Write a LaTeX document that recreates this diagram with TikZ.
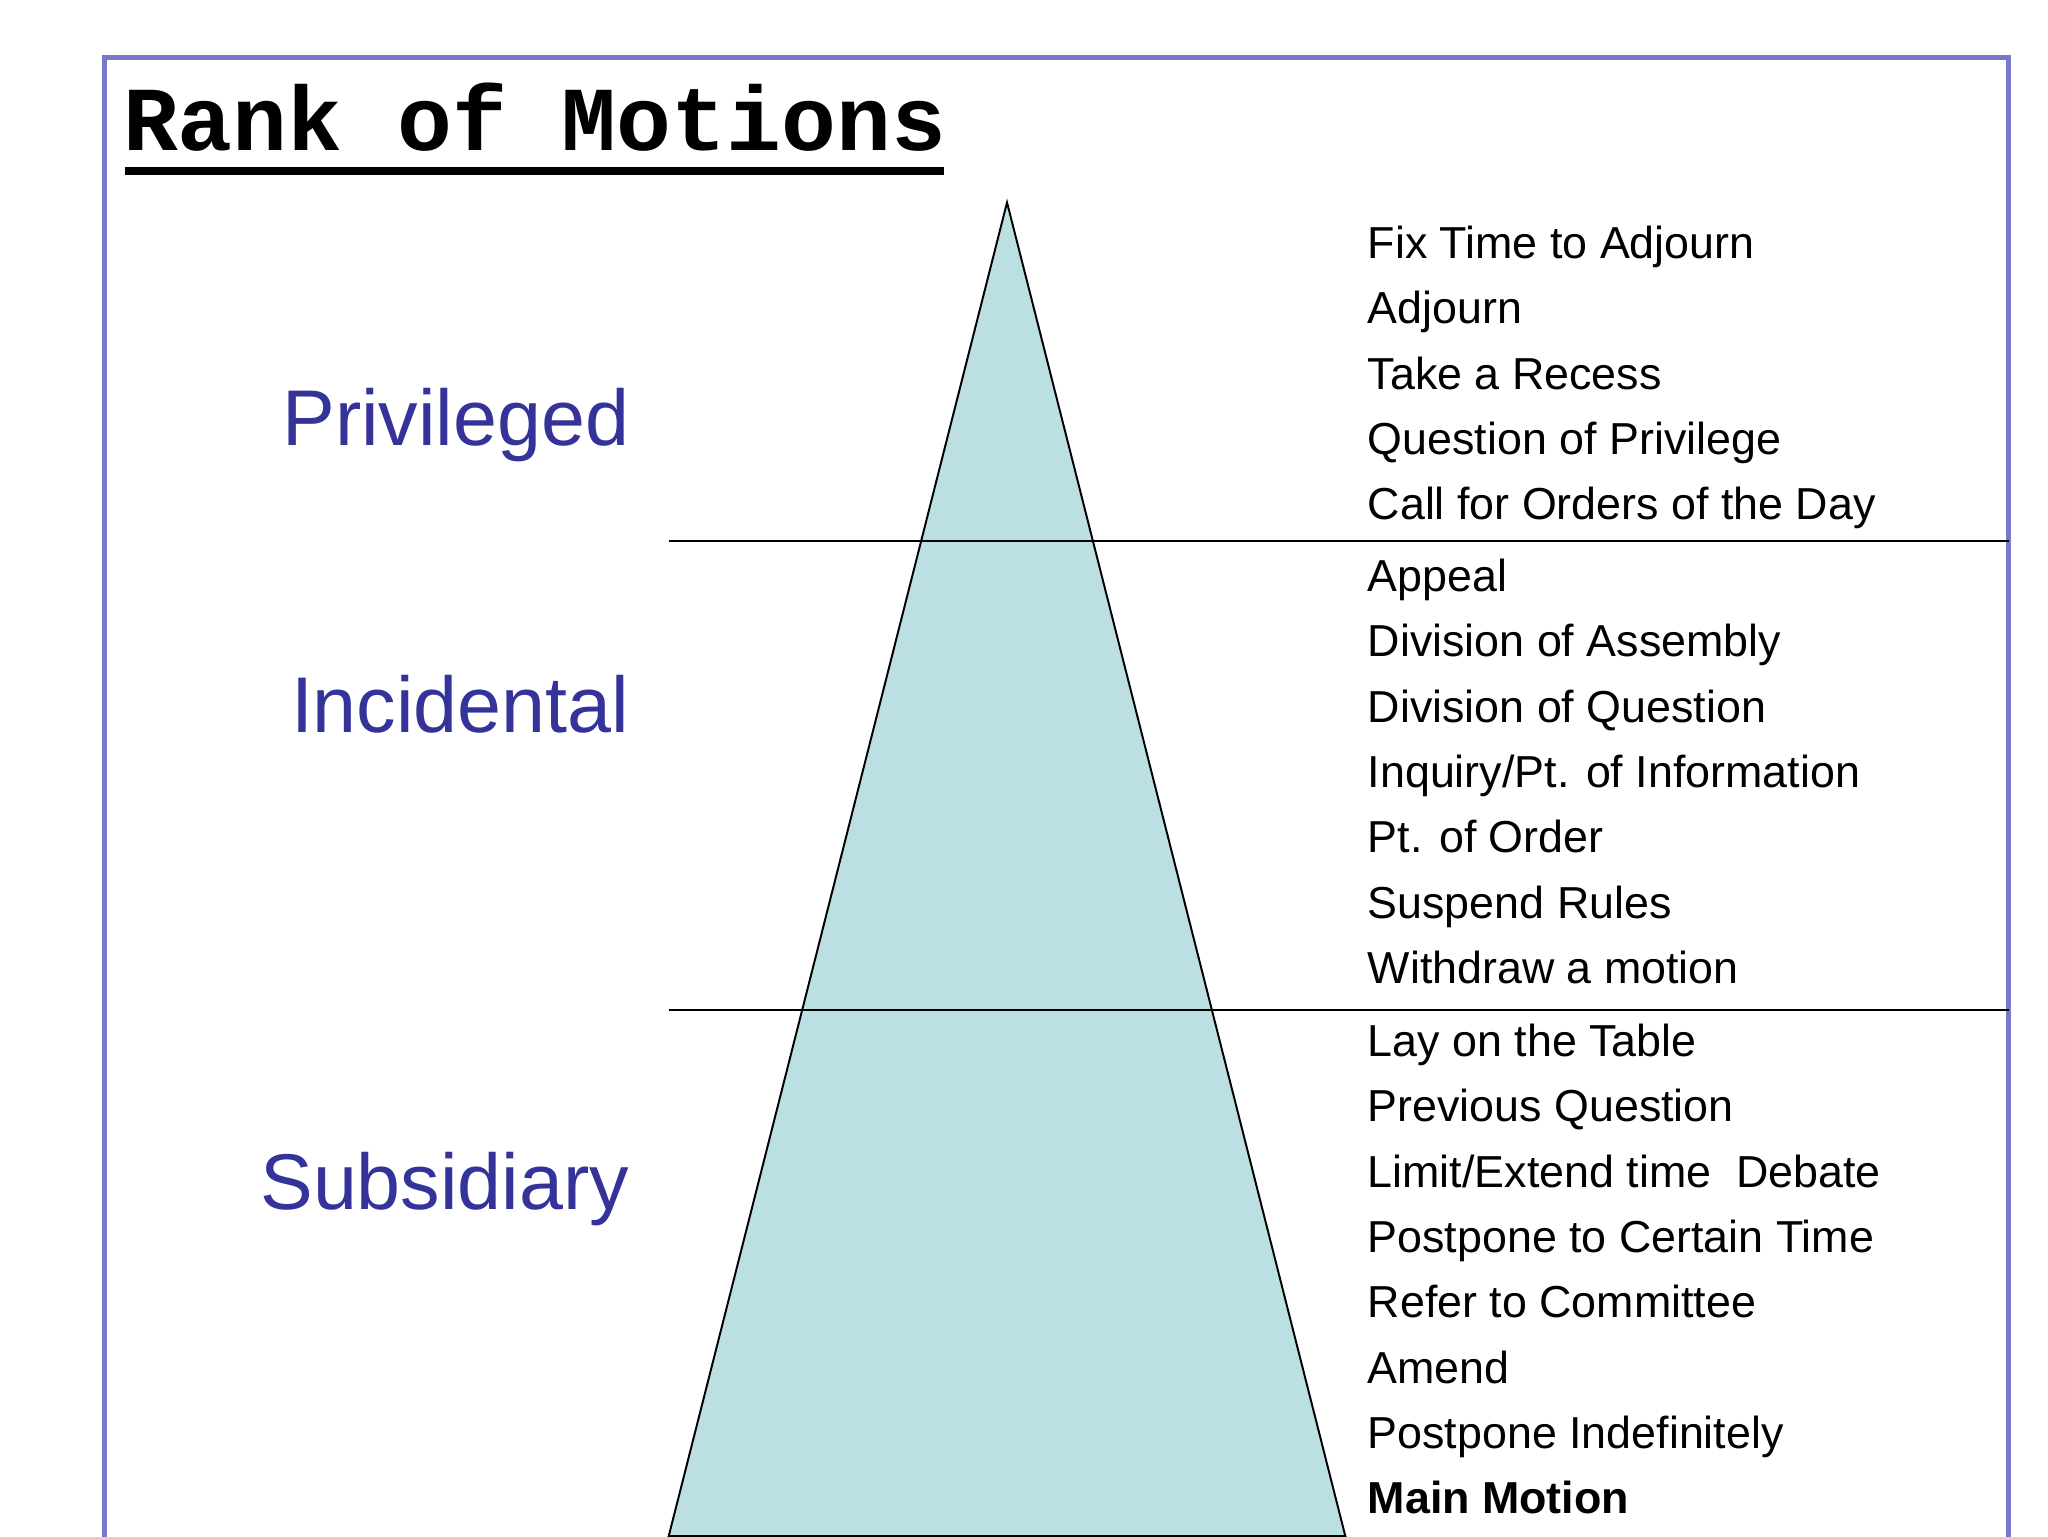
\documentclass[tikz,border=0pt]{standalone}
\usepackage{fontspec}
\setmainfont{Liberation Sans}
\newfontfamily\titlefont{Liberation Mono}
\definecolor{frame}{HTML}{7777CC}
\definecolor{tri}{HTML}{BBDFE3}
\definecolor{cat}{HTML}{333399}
\begin{document}
\begin{tikzpicture}[x=1pt,y=-1pt,
 item/.style={anchor=base west,inner sep=0,font=\fontsize{34.3}{36}\selectfont},
 catlab/.style={anchor=base east,inner sep=0,text=cat,font=\fontsize{60.5}{64}\selectfont}]
\useasboundingbox (0,0) rectangle (1568,1176);
\fill[white] (0,0) rectangle (1568,1176);
\draw[frame,line width=4] (80,1190) -- (80,44) -- (1538,44) -- (1538,1190);
\draw[fill=tri,line width=1.5] (771,155) -- (1030,1176) -- (512,1176) -- cycle;
\draw[line width=1.5] (512,414) -- (1538,414);
\draw[line width=1.5] (512,773) -- (1538,773);
\node[anchor=base west,inner sep=0,font=\titlefont\bfseries\fontsize{70}{72}\selectfont] (title) at (94,115) {Rank of Motions};
\draw[line width=6] (96,131) -- (723,131);
\node[catlab] (p) at (482,341) {Privileged};
\node[catlab] (i) at (482,561) {Incidental};
\node[catlab] (s) at (482,926) {Subsidiary};
\foreach \t [count=\k from 0] in {Fix Time to Adjourn,Adjourn,Take a Recess,Question of Privilege,Call for Orders of the Day}
 \node[item] (a\k) at (1047,198+50*\k) {\t};
\foreach \t [count=\k from 0] in {Appeal,Division of Assembly,Division of Question,Inquiry/Pt. of Information,Pt. of Order,Suspend Rules,Withdraw a motion}
 \node[item] (b\k) at (1047,453+50*\k) {\t};
\foreach \t [count=\k from 0] in {Lay on the Table,Previous Question,Limit/Extend time\ \ Debate,Postpone to Certain Time,Refer to Committee,Amend,Postpone Indefinitely}
 \node[item] (c\k) at (1047,809+50*\k) {\t};
\node[item,font=\bfseries\fontsize{34.3}{36}\selectfont] (main) at (1047,1159) {Main Motion};
\end{tikzpicture}
\end{document}
